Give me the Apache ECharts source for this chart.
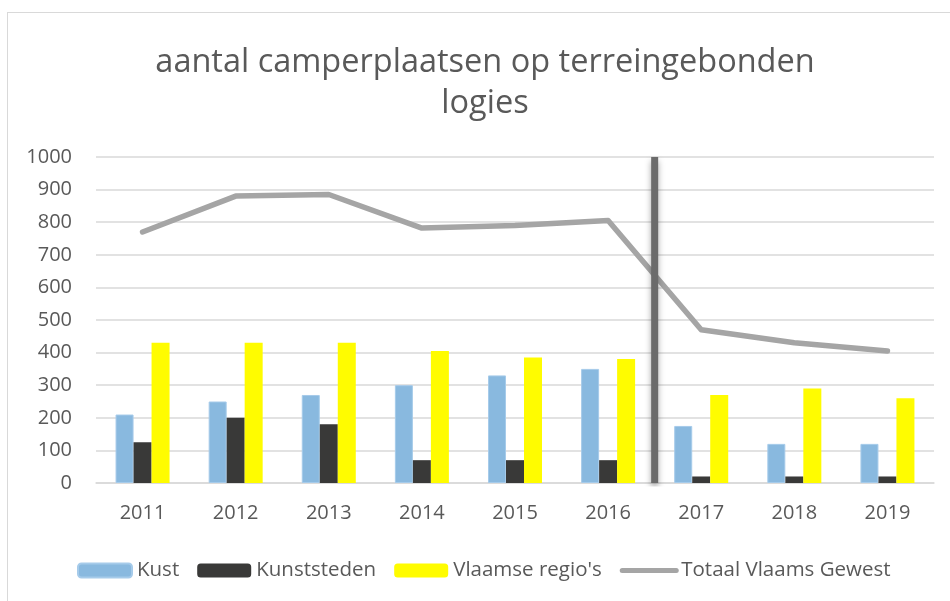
<!DOCTYPE html>
<html>
<head>
<meta charset="utf-8">
<style>
html, body {
  margin: 0;
  padding: 0;
  width: 950px;
  height: 601px;
  background: #fff;
  overflow: hidden;
}
#frame {
  position: absolute;
  left: 7px;
  top: 12px;
  width: 1000px;
  height: 700px;
  border: 1px solid #d9d9d9;
}
#chart {
  position: absolute;
  left: 0;
  top: 0;
  width: 950px;
  height: 601px;
}
</style>
<script src="https://cdn.jsdelivr.net/npm/echarts@6/dist/echarts.min.js"></script>
</head>
<body>
<div id="frame"></div>
<div id="chart"></div>
<script>
const years = ['2011', '2012', '2013', '2014', '2015', '2016', '2017', '2018', '2019']
const kust = [210, 250, 270, 300, 330, 350, 175, 120, 120]
const kunststeden = [125, 200, 180, 70, 70, 70, 20, 20, 20]
const vlaamseRegios = [430, 430, 430, 405, 385, 380, 270, 290, 260]
const totaal = [770, 880, 885, 782, 790, 805, 470, 430, 405]
// scheiding tussen 2016 en 2017 (categorie-index)
const dividerAt = 5.5

const font = "'Open Sans', sans-serif"
const textColor = '#595959'

const chart = echarts.init(document.getElementById('chart'))

const option = {
  animation: false,
  textStyle: { fontFamily: font },
  title: {
    text: 'aantal camperplaatsen op terreingebonden\nlogies',
    left: 480,
    textAlign: 'center',
    top: 37,
    textStyle: {
      fontFamily: font,
      fontSize: 32.5,
      fontWeight: 'normal',
      color: textColor,
      lineHeight: 41
    }
  },
  legend: {
    data: [
      'Kust',
      'Kunststeden',
      "Vlaamse regio's",
      {
        name: 'Totaal Vlaams Gewest',
        itemStyle: { opacity: 0 },
        lineStyle: { color: '#a5a5a5', width: 5, cap: 'round' }
      }
    ],
    left: 72,
    top: 555,
    itemWidth: 54,
    itemHeight: 14,
    itemGap: 18,
    textStyle: { fontFamily: font, fontSize: 20.5, color: textColor }
  },
  grid: {
    left: 96,
    right: 16,
    top: 157,
    bottom: 118
  },
  xAxis: [
    {
      type: 'category',
      data: years,
      axisLine: { lineStyle: { color: '#d9d9d9', width: 1.5 } },
      axisTick: { show: false },
      axisLabel: { fontFamily: font, fontSize: 20, color: textColor, margin: 20 }
    },
    {
      type: 'value',
      min: -0.5,
      max: years.length - 0.5,
      show: false
    }
  ],
  yAxis: {
    type: 'value',
    min: 0,
    max: 1000,
    interval: 100,
    axisLine: { show: false },
    axisTick: { show: false },
    splitLine: { lineStyle: { color: '#d9d9d9', width: 1.5 } },
    axisLabel: {
      fontFamily: font,
      fontSize: 20,
      color: textColor,
      margin: 24,
      formatter: v => String(v)
    }
  },
  series: [
    {
      name: 'Kust',
      type: 'bar',
      data: kust,
      barWidth: 18,
      barGap: '0%',
      itemStyle: { color: '#89b9df', borderColor: '#a6cbea', borderWidth: 1 }
    },
    {
      name: 'Kunststeden',
      type: 'bar',
      data: kunststeden,
      barWidth: 18,
      barGap: '0%',
      itemStyle: { color: '#393938' }
    },
    {
      name: "Vlaamse regio's",
      type: 'bar',
      data: vlaamseRegios,
      barWidth: 18,
      barGap: '0%',
      itemStyle: { color: '#fffc00' }
    },
    {
      name: 'Totaal Vlaams Gewest',
      type: 'line',
      data: totaal,
      symbol: 'none',
      lineStyle: { color: '#a5a5a5', width: 5.5, cap: 'round', join: 'round' },
      itemStyle: { color: '#a5a5a5' }
    },
    {
      name: 'scheiding',
      type: 'line',
      xAxisIndex: 1,
      data: [[dividerAt, 0], [dividerAt, 1000]],
      symbol: 'none',
      silent: true,
      z: 5,
      lineStyle: {
        color: '#6b6b6b',
        width: 7,
        shadowColor: 'rgba(0,0,0,0.35)',
        shadowBlur: 6,
        shadowOffsetY: 4
      }
    }
  ]
}

chart.setOption(option)
</script>
</body>
</html>
